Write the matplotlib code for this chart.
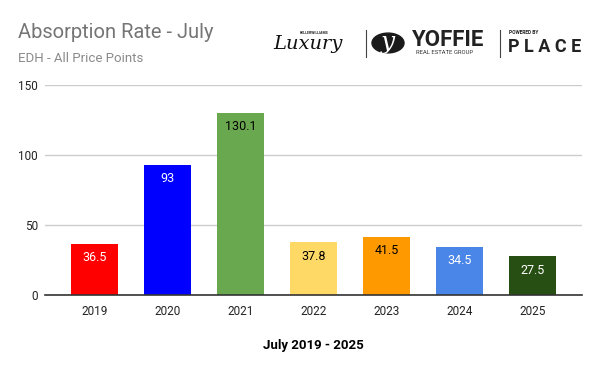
import matplotlib
matplotlib.use("Agg")
import matplotlib.pyplot as plt
from matplotlib.patches import Circle

plt.rcParams['font.family'] = ['Roboto', 'DejaVu Sans']

years = ['2019', '2020', '2021', '2022', '2023', '2024', '2025']
rates = [36.5, 93, 130.1, 37.8, 41.5, 34.5, 27.5]
bar_colors = ['#ff0000', '#0000ff', '#6aa84f', '#ffd966', '#ff9900', '#4a86e8', '#274e13']
label_colors = ['white', 'white', 'black', 'black', 'black', 'white', 'white']
yticks = [0, 50, 100, 150]

fig = plt.figure(figsize=(6, 3.71), dpi=100, facecolor='white')
ax = fig.add_axes([0.075, 0.205, 0.895, 0.566])

x = list(range(len(years)))
bars = ax.bar(x, rates, width=0.64, color=bar_colors, zorder=3)
for b, v, c in zip(bars, rates, label_colors):
    ax.annotate(f'{v:g}', (b.get_x() + b.get_width() / 2, v), xytext=(0, -5.5),
                textcoords='offset points', ha='center', va='top', color=c, fontsize=9)

ax.set_xlim(-0.68, 6.68)
ax.set_ylim(0, 150)
ax.set_yticks(yticks)
ax.set_xticks(x)
ax.set_xticklabels(years)
ax.tick_params(axis='both', length=0, labelsize=8.5, colors='#222222')
ax.tick_params(axis='y', pad=5)
ax.tick_params(axis='x', pad=7)
ax.grid(axis='y', color='#cccccc', linewidth=1, zorder=0)
for s in ['top', 'right', 'left']:
    ax.spines[s].set_visible(False)
ax.spines['bottom'].set_color('#333333')
ax.spines['bottom'].set_linewidth(1.2)
ax.spines['bottom'].set_zorder(4)
ax.set_xlabel('July 2019 - 2025', fontsize=9.5, fontweight='bold', labelpad=15)

# titles
fig.text(18 / 600, 1 - 33 / 371, 'Absorption Rate - July', fontsize=14.5, color='#757575', va='center')
fig.text(18 / 600, 1 - 58 / 371, 'EDH - All Price Points', fontsize=9.5, color='#8a8a8a', va='center')

# logo block, drawn as text
fig.text(300 / 600, 1 - 33 / 371, 'KELLERWILLIAMS', fontsize=2.5, fontweight='bold', color='#222222', va='center')
fig.text(273 / 600, 1 - 44 / 371, 'Luxury', fontsize=14, family='DejaVu Serif', style='italic', color='#111111', va='center')
fig.add_artist(plt.Line2D([366 / 600, 366 / 600], [1 - 30 / 371, 1 - 57 / 371], color='#444444', lw=0.8))
fig.add_artist(Circle((388 / 600, 1 - 43 / 371), 16 / 600, transform=fig.transFigure, color='#1a1a1a'))
fig.text(388 / 600, 1 - 43 / 371, 'y', fontsize=18, family='DejaVu Serif', style='italic', color='white', ha='center', va='center')
fig.text(412 / 600, 1 - 40 / 371, 'YOFFIE', fontsize=16, fontweight='bold', color='#222222', va='center')
fig.text(416 / 600, 1 - 52.5 / 371, 'REAL ESTATE GROUP', fontsize=4.2, color='#333333', va='center')
fig.add_artist(plt.Line2D([500 / 600, 500 / 600], [1 - 30 / 371, 1 - 57 / 371], color='#444444', lw=0.8))
fig.text(509 / 600, 1 - 33 / 371, 'POWERED BY', fontsize=3.5, fontweight='bold', color='#222222', va='center')
fig.text(508 / 600, 1 - 47 / 371, 'P L A C E', fontsize=13, fontweight='bold', color='#222222', va='center')

plt.savefig('out.png', dpi=100, facecolor='white')
plt.close()
